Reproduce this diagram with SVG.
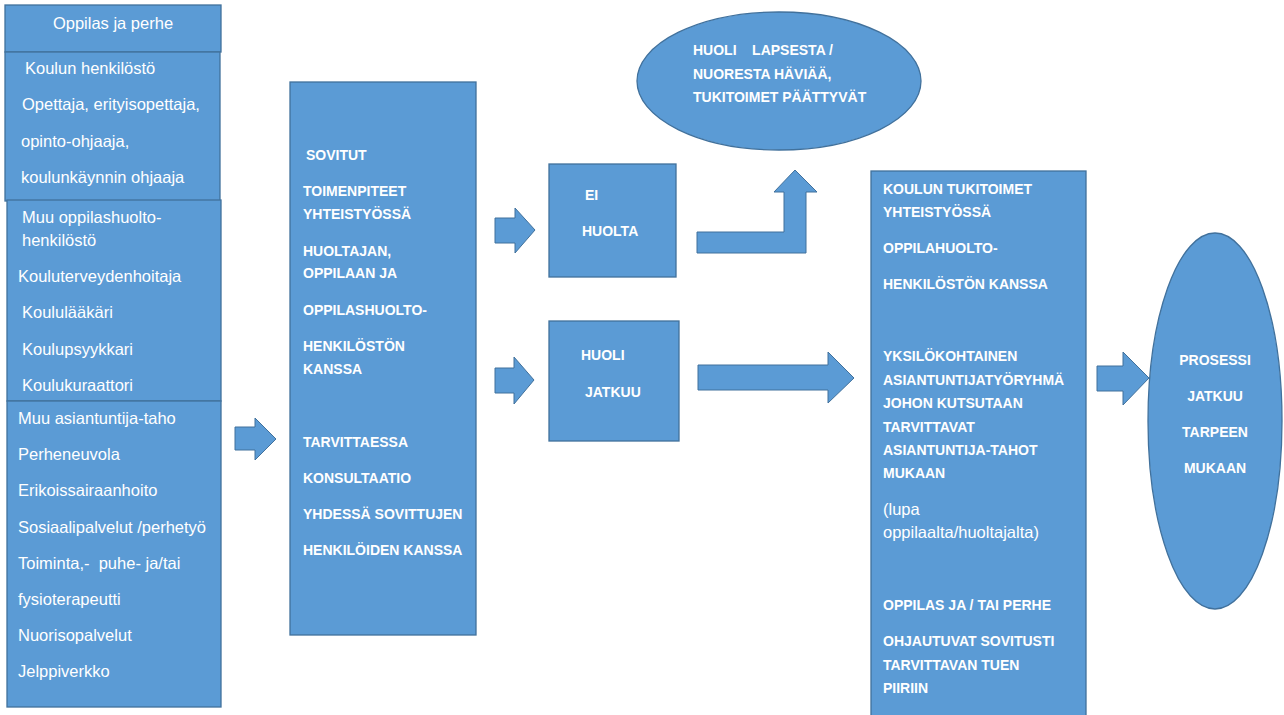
<svg xmlns="http://www.w3.org/2000/svg" width="1284" height="715" viewBox="0 0 1284 715">
<style>
.s{fill:#5B9BD5;stroke:#41719C;stroke-width:1.3}
.a{fill:#5B9BD5;stroke:#41719C;stroke-width:1}
.t{font-family:"Liberation Sans",Arial,sans-serif;font-size:16.5px;fill:#fff}
.b{font-family:"Liberation Sans",Arial,sans-serif;font-size:14px;font-weight:bold;fill:#fff}
</style>
<rect width="1284" height="715" fill="#fff"/>
<g id="oppilas">
<rect class="s" x="5" y="5" width="216" height="47"/>
<text class="t" x="113" y="29" text-anchor="middle">Oppilas ja perhe</text>
</g>
<g id="koulun-henkilosto">
<rect class="s" x="5" y="52" width="215" height="149"/>
<text class="t" x="25" y="74">Koulun henkilöstö</text>
<text class="t" x="22" y="110">Opettaja, erityisopettaja,</text>
<text class="t" x="21" y="147">opinto-ohjaaja,</text>
<text class="t" x="21" y="183">koulunkäynnin ohjaaja</text>
</g>
<g id="muu-oppilashuolto">
<rect class="s" x="7" y="200" width="214" height="201"/>
<text class="t" x="22" y="223">Muu oppilashuolto-</text>
<text class="t" x="22" y="246">henkilöstö</text>
<text class="t" x="18" y="282">Kouluterveydenhoitaja</text>
<text class="t" x="22" y="318">Koululääkäri</text>
<text class="t" x="22" y="355">Koulupsyykkari</text>
<text class="t" x="22" y="391">Koulukuraattori</text>
</g>
<g id="muu-asiantuntija">
<rect class="s" x="7" y="401" width="214" height="306"/>
<text class="t" x="18" y="424">Muu asiantuntija-taho</text>
<text class="t" x="18" y="460">Perheneuvola</text>
<text class="t" x="18" y="496">Erikoissairaanhoito</text>
<text class="t" x="18" y="533">Sosiaalipalvelut /perhetyö</text>
<text class="t" x="18" y="569" xml:space="preserve">Toiminta,-  puhe- ja/tai</text>
<text class="t" x="18" y="605">fysioterapeutti</text>
<text class="t" x="18" y="641">Nuorisopalvelut</text>
<text class="t" x="18" y="677">Jelppiverkko</text>
</g>
<g id="sovitut">
<rect class="s" x="290" y="82" width="186" height="553"/>
<text class="b" x="306" y="160">SOVITUT</text>
<text class="b" x="303" y="196">TOIMENPITEET</text>
<text class="b" x="303" y="219">YHTEISTYÖSSÄ</text>
<text class="b" x="303" y="256">HUOLTAJAN,</text>
<text class="b" x="303" y="278">OPPILAAN JA</text>
<text class="b" x="303" y="315">OPPILASHUOLTO-</text>
<text class="b" x="303" y="351">HENKILÖSTÖN</text>
<text class="b" x="303" y="374">KANSSA</text>
<text class="b" x="303" y="447">TARVITTAESSA</text>
<text class="b" x="303" y="483">KONSULTAATIO</text>
<text class="b" x="303" y="519">YHDESSÄ SOVITTUJEN</text>
<text class="b" x="303" y="555">HENKILÖIDEN KANSSA</text>
</g>
<g id="ei-huolta">
<rect class="s" x="549" y="164" width="127" height="113"/>
<text class="b" x="585" y="200">EI</text>
<text class="b" x="582" y="236">HUOLTA</text>
</g>
<g id="huoli-jatkuu">
<rect class="s" x="549" y="321" width="130" height="120"/>
<text class="b" x="581" y="360">HUOLI</text>
<text class="b" x="585" y="397">JATKUU</text>
</g>
<g id="huoli-haviaa">
<ellipse class="s" cx="779" cy="81" rx="142" ry="69"/>
<text class="b" x="693" y="55" xml:space="preserve">HUOLI    LAPSESTA /</text>
<text class="b" x="693" y="79">NUORESTA HÄVIÄÄ,</text>
<text class="b" x="693" y="102">TUKITOIMET PÄÄTTYVÄT</text>
</g>
<g id="koulun-tukitoimet">
<rect class="s" x="871" y="171" width="215" height="548"/>
<text class="b" x="883" y="194">KOULUN TUKITOIMET</text>
<text class="b" x="883" y="217">YHTEISTYÖSSÄ</text>
<text class="b" x="883" y="253">OPPILAHUOLTO-</text>
<text class="b" x="883" y="289">HENKILÖSTÖN KANSSA</text>
<text class="b" x="883" y="361">YKSILÖKOHTAINEN</text>
<text class="b" x="883" y="385">ASIANTUNTIJATYÖRYHMÄ</text>
<text class="b" x="883" y="408">JOHON KUTSUTAAN</text>
<text class="b" x="883" y="432">TARVITTAVAT</text>
<text class="b" x="883" y="455">ASIANTUNTIJA-TAHOT</text>
<text class="b" x="883" y="478">MUKAAN</text>
<text class="t" x="883" y="515">(lupa</text>
<text class="t" x="883" y="538">oppilaalta/huoltajalta)</text>
<text class="b" x="883" y="610">OPPILAS JA / TAI PERHE</text>
<text class="b" x="883" y="646">OHJAUTUVAT SOVITUSTI</text>
<text class="b" x="883" y="670">TARVITTAVAN TUEN</text>
<text class="b" x="883" y="693">PIIRIIN</text>
</g>
<g id="prosessi">
<ellipse class="s" cx="1215" cy="421" rx="67" ry="188"/>
<text class="b" x="1215" y="365" text-anchor="middle">PROSESSI</text>
<text class="b" x="1215" y="401" text-anchor="middle">JATKUU</text>
<text class="b" x="1215" y="437" text-anchor="middle">TARPEEN</text>
<text class="b" x="1215" y="473" text-anchor="middle">MUKAAN</text>
</g>
<g id="connectors">
<path class="a" d="M235,427 H255 V418 L276,439 L255,460 V450 H235 Z"/>
<path class="a" d="M495,218 H515 V208 L535,230 L515,253 V243 H495 Z"/>
<path class="a" d="M495,368 H514 V357 L534,380 L514,404 V393 H495 Z"/>
<path class="a" d="M697,232 H784 V192 H774 L795,170 L817,192 H806 V253 H697 Z"/>
<path class="a" d="M698,365 H828 V352 L854,378 L828,403 V390 H698 Z"/>
<path class="a" d="M1097,366 H1123 V352 L1149,378 L1123,405 V391 H1097 Z"/>
</g>
</svg>
